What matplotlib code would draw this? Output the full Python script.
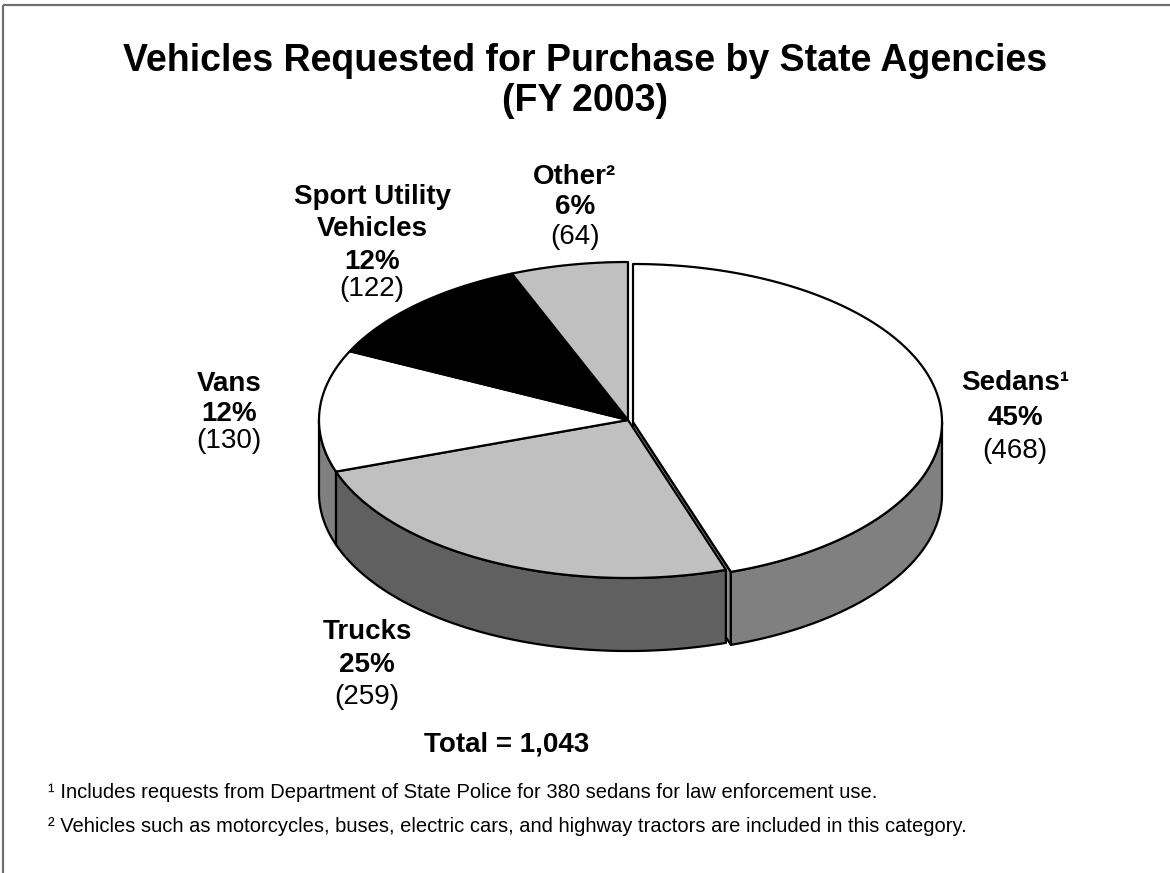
import numpy as np
import matplotlib
matplotlib.use('Agg')
import matplotlib.pyplot as plt
from matplotlib.patches import Polygon

# ---------------- data ----------------
categories = ['Sedans', 'Trucks', 'Vans', 'Sport Utility\nVehicles', 'Other']
superscripts = ['\u00b9', '', '', '', '\u00b2']
counts = [468, 259, 130, 122, 64]
percent_labels = ['45%', '25%', '12%', '12%', '6%']
top_colors = ['#FFFFFF', '#C0C0C0', '#FFFFFF', '#000000', '#C0C0C0']
side_colors = ['#808080', '#606060', '#808080', '#404040', '#808080']
title_lines = ['Vehicles Requested for Purchase by State Agencies', '(FY 2003)']
total_label = 'Total = 1,043'
footnotes = ['\u00b9 Includes requests from Department of State Police for 380 sedans for law enforcement use.',
             '\u00b2 Vehicles such as motorcycles, buses, electric cars, and highway tractors are included in this category.']

plt.rcParams['font.family'] = ['Liberation Sans', 'DejaVu Sans']

W, H = 1170, 873
fig = plt.figure(figsize=(W / 100, H / 100), dpi=100)
ax = fig.add_axes([0, 0, 1, 1])
ax.set_xlim(0, W)
ax.set_ylim(H, 0)
ax.axis('off')

# frame (top and left)
ax.plot([3, W], [5, 5], color='#6e6e6e', lw=1.6, solid_capstyle='butt')
ax.plot([3, 3], [5, H], color='#6e6e6e', lw=1.6, solid_capstyle='butt')

# ---------------- 3D pie geometry ----------------
cx, cy = 628, 420
a, b = 309, 158
depth = 73
explode = [(5, 2), (0, 0), (0, 0), (0, 0), (0, 0)]
edge_kw = dict(edgecolor='black', lw=1.6, joinstyle='round')

total = float(sum(counts))
bounds = np.concatenate([[0.0], np.cumsum(counts)]) / total * 360.0


def pts(thetas, dx=0, dy=0, z=0):
    t = np.radians(np.asarray(thetas, dtype=float))
    return np.column_stack([cx + dx + a * np.sin(t), cy + dy - b * np.cos(t) + z])


# radial faces of exploded slices (visible ones)
for i, c in enumerate(counts):
    dx, dy = explode[i]
    if dx == 0 and dy == 0:
        continue
    t0, t1 = bounds[i], bounds[i + 1]
    for tf, sgn in ((t0, -1), (t1, 1)):
        if sgn * np.sin(np.radians(tf)) > 1e-6:
            e_top = pts([tf], dx, dy)[0]
            e_bot = pts([tf], dx, dy, depth)[0]
            poly = [[cx + dx, cy + dy], e_top, e_bot, [cx + dx, cy + dy + depth]]
            ax.add_patch(Polygon(poly, closed=True, facecolor='#8c8c8c', **edge_kw))

# outer walls (front half only)
for i, c in enumerate(counts):
    dx, dy = explode[i]
    t0, t1 = bounds[i], bounds[i + 1]
    lo, hi = max(t0, 90.0), min(t1, 270.0)
    if hi <= lo:
        continue
    th = np.linspace(lo, hi, 200)
    top = pts(th, dx, dy)
    bot = pts(th[::-1], dx, dy, depth)
    ax.add_patch(Polygon(np.vstack([top, bot]), closed=True,
                         facecolor=side_colors[i], **edge_kw))

# top faces
for i, c in enumerate(counts):
    dx, dy = explode[i]
    t0, t1 = bounds[i], bounds[i + 1]
    th = np.linspace(t0, t1, 300)
    arc = pts(th, dx, dy)
    poly = np.vstack([[cx + dx, cy + dy], arc])
    ax.add_patch(Polygon(poly, closed=True, facecolor=top_colors[i], **edge_kw))

# ---------------- labels ----------------
# (center x, y of name line(s), y pct, y count)
label_pos = [
    (1015, [383], 418, 451),
    (367, [632], 665, 697),
    (229, [384], 414, 441),
    (372, [197, 229], 262, 289),
    (575, [177], 207, 237),
]
fs_lab = 20
for i, name in enumerate(categories):
    x, name_ys, y_pct, y_cnt = label_pos[i]
    lines = name.split('\n')
    for j, ln in enumerate(lines):
        txt = ln + (superscripts[i] if j == len(lines) - 1 else '')
        ax.text(x, name_ys[j], txt, ha='center', va='center', fontsize=fs_lab,
                fontweight='bold')
    ax.text(x, y_pct, percent_labels[i], ha='center', va='center',
            fontsize=fs_lab, fontweight='bold')
    ax.text(x, y_cnt, '(%d)' % counts[i], ha='center', va='center', fontsize=fs_lab)

ax.text(585, 61, title_lines[0], ha='center', va='center', fontsize=27, fontweight='bold')
ax.text(585, 101, title_lines[1], ha='center', va='center', fontsize=27, fontweight='bold')
ax.text(507, 745, total_label, ha='center', va='center', fontsize=20, fontweight='bold')

ax.text(48, 793, footnotes[0], ha='left', va='center', fontsize=14.5)
ax.text(48, 826, footnotes[1], ha='left', va='center', fontsize=14.5)

fig.savefig('out.png', dpi=100, facecolor='white')
